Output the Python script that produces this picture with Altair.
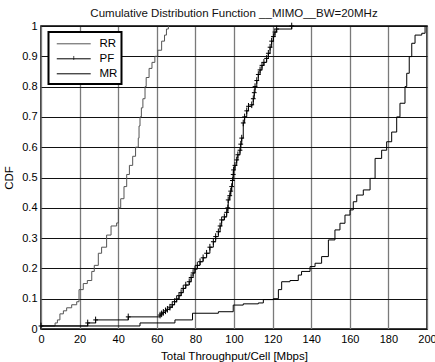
import altair as alt
import pandas as pd

series_names = ["RR", "PF", "MR"]

rr_x = [0, 7.3, 8.5, 9.8, 11.6, 13.3, 15.9, 18.5, 19.7, 21.9, 24.0, 26.3, 27.6, 29.7, 31.4, 34.0,
        36.3, 39.2, 40.1, 41.3, 43.0, 44.4, 45.8, 47.5, 49.0, 50.4, 50.8, 51.3, 52.0, 52.8, 53.9,
        54.5, 56.0, 57.5, 59.0, 60.5, 62.5, 64.0, 65.0, 66.0]
rr_y = [0.01, 0.02, 0.03, 0.05, 0.06, 0.07, 0.08, 0.09, 0.13, 0.15, 0.16, 0.19, 0.21, 0.25, 0.27, 0.31,
        0.34, 0.35, 0.40, 0.43, 0.47, 0.51, 0.54, 0.57, 0.60, 0.63, 0.67, 0.70, 0.73, 0.76, 0.80,
        0.83, 0.86, 0.88, 0.90, 0.92, 0.95, 0.97, 0.99, 1.0]

pf_x = [0, 24.2, 28.3, 45.2, 61.7, 62.5, 63.4, 64.5, 65.5, 66.8, 68.0, 69.2, 70.3, 71.5, 72.6, 73.7,
        75.0, 76.8, 77.8, 78.8, 79.8, 81.0, 82.4, 84.0, 85.8, 87.5, 89.3, 90.5, 91.9, 92.8, 93.6,
        95.0, 96.2, 96.8, 97.0, 97.8, 98.3, 98.8, 99.2, 99.6, 99.8, 100.5, 101.4, 102.0, 103.1,
        103.5, 104.0, 104.8, 105.5, 106.6, 107.5, 109.2, 110.0, 110.5, 110.9, 111.8, 112.6, 113.5,
        114.5, 115.5, 116.9, 117.8, 118.7, 119.5, 120.4, 121.2, 122.1, 129.9]
pf_y = [0.01, 0.02, 0.03, 0.04, 0.046, 0.05, 0.055, 0.06, 0.065, 0.072, 0.08, 0.09, 0.099, 0.11, 0.12, 0.134,
        0.145, 0.156, 0.17, 0.185, 0.198, 0.21, 0.222, 0.235, 0.25, 0.27, 0.288, 0.305, 0.321, 0.34, 0.36,
        0.37, 0.385, 0.40, 0.426, 0.44, 0.455, 0.47, 0.49, 0.51, 0.525, 0.54, 0.558, 0.575, 0.59,
        0.61, 0.63, 0.68, 0.70, 0.72, 0.735, 0.74, 0.76, 0.78, 0.80, 0.82, 0.84, 0.855,
        0.87, 0.88, 0.893, 0.91, 0.93, 0.95, 0.965, 0.98, 0.99, 1.0]

mr_x = [0, 51.3, 69.4, 78.5, 91.9, 99.6, 104.8, 112.6, 115.2, 120.4, 123.0, 124.7, 129.0, 133.3,
        135.0, 139.4, 142.0, 145.4, 148.9, 152.3, 154.9, 157.5, 160.1, 161.8, 163.6, 167.0, 170.5,
        173.1, 176.5, 179.1, 181.7, 184.3, 186.0, 188.6, 189.5, 190.8, 192.1, 193.8, 197.3, 199.0]
mr_y = [0.01, 0.02, 0.03, 0.052, 0.057, 0.079, 0.083, 0.086, 0.097, 0.10, 0.13, 0.156, 0.16, 0.178,
        0.19, 0.206, 0.217, 0.239, 0.294, 0.327, 0.349, 0.376, 0.393, 0.42, 0.442, 0.459, 0.497,
        0.563, 0.59, 0.618, 0.65, 0.70, 0.745, 0.80, 0.844, 0.899, 0.943, 0.97, 0.976, 0.998]

x_ticks = [0, 20, 40, 60, 80, 100, 120, 140, 160, 180, 200]
y_ticks = [0, 0.1, 0.2, 0.3, 0.4, 0.5, 0.6, 0.7, 0.8, 0.9, 1.0]

rows = []
for name, xs, ys in [("RR", rr_x, rr_y), ("PF", pf_x, pf_y), ("MR", mr_x, mr_y)]:
    for x, y in zip(xs, ys):
        rows.append({"series": name, "marker_series": name, "thr": x, "cdf": y})
df = pd.DataFrame(rows)

FONT = "Liberation Sans"
PLUS = "M-0.8,0H0.8M0,-1.1V1.1"
LEG_LINE = "M-6,0H6"
LEG_TICK = "M0,-0.7V0.7"
NONE = "M0,0"

x_enc = alt.X("thr:Q", scale=alt.Scale(domain=[0, 200], nice=False, zero=False),
              axis=alt.Axis(values=x_ticks, title="Total Throughput/Cell [Mbps]", grid=True,
                            gridColor="#7a7a7a", gridWidth=1.3, ticks=False, domain=False,
                            labelPadding=4, titlePadding=6, labelFlush=False, format="d",
                            labelOverlap=False, tickCount=30))
y_enc = alt.Y("cdf:Q", scale=alt.Scale(domain=[0, 1], nice=False),
              axis=alt.Axis(values=y_ticks, format=".1~f", title="CDF", grid=True,
                            gridColor="#111111", gridWidth=1, ticks=False, domain=False,
                            labelPadding=4, titlePadding=7, labelOverlap=False, tickCount=30))

legend_common = dict(title=None, orient="none", padding=5,
                     symbolStrokeWidth=1, rowPadding=0, columnPadding=0,
                     labelFont=FONT, labelFontSize=11.5, symbolSize=32)

# legend with lines and labels (no box, drawn on top)
lines = alt.Chart(df).mark_line(interpolate="step-after", strokeWidth=1).encode(
    x=x_enc, y=y_enc,
    color=alt.Color("series:N",
                    scale=alt.Scale(domain=series_names, range=["#555555", "#000000", "#000000"]),
                    legend=alt.Legend(symbolType=LEG_LINE, labelOffset=20, legendX=6, legendY=5.5,
                                      clipHeight=14.6, symbolOffset=16,
                                      labelColor="black", zindex=2, **legend_common)),
)

markers = alt.Chart(df).transform_filter(alt.datum.series == "PF").mark_point(
    size=36, strokeWidth=1, filled=False, color="black", opacity=1, shape=PLUS
).encode(x=x_enc, y=y_enc)

# legend carrying the white box and the PF tick (drawn below)
legend_ticks = alt.Chart(df).transform_filter(alt.datum.series == "__none__").mark_point(
    size=36, strokeWidth=1, filled=False, color="black"
).encode(
    x=x_enc, y=y_enc,
    shape=alt.Shape("marker_series:N",
                    scale=alt.Scale(domain=series_names, range=[NONE, LEG_TICK, NONE]),
                    legend=alt.Legend(labelOffset=37, labelExpr="''", legendX=7.5, legendY=6,
                                      clipHeight=13.9, symbolOffset=14.5,
                                      fillColor="white", strokeColor="black",
                                      symbolStrokeColor="black", zindex=1,
                                      **legend_common)),
)

chart = alt.layer(lines, markers, legend_ticks).resolve_legend(
    color="independent", shape="independent"
).properties(
    width=386, height=303,
    padding={"left": 41, "top": 26, "right": 8, "bottom": 33},
    autosize=alt.AutoSizeParams(type="none"),
    title=alt.TitleParams("Cumulative Distribution Function __MIMO__BW=20MHz", font=FONT,
                          fontSize=11.5, fontWeight="normal", color="#111111", anchor="middle",
                          baseline="bottom", offset=0, frame="group", dy=10),
).configure_view(stroke="black", strokeWidth=1.5).configure_axis(
    labelFont=FONT, titleFont=FONT, labelFontSize=11, titleFontSize=11.5,
    labelColor="black", titleColor="black", titleFontWeight="normal"
).configure_legend(strokeWidth=2)

chart.save("out.html", embed_options={"renderer": "svg", "actions": False})
